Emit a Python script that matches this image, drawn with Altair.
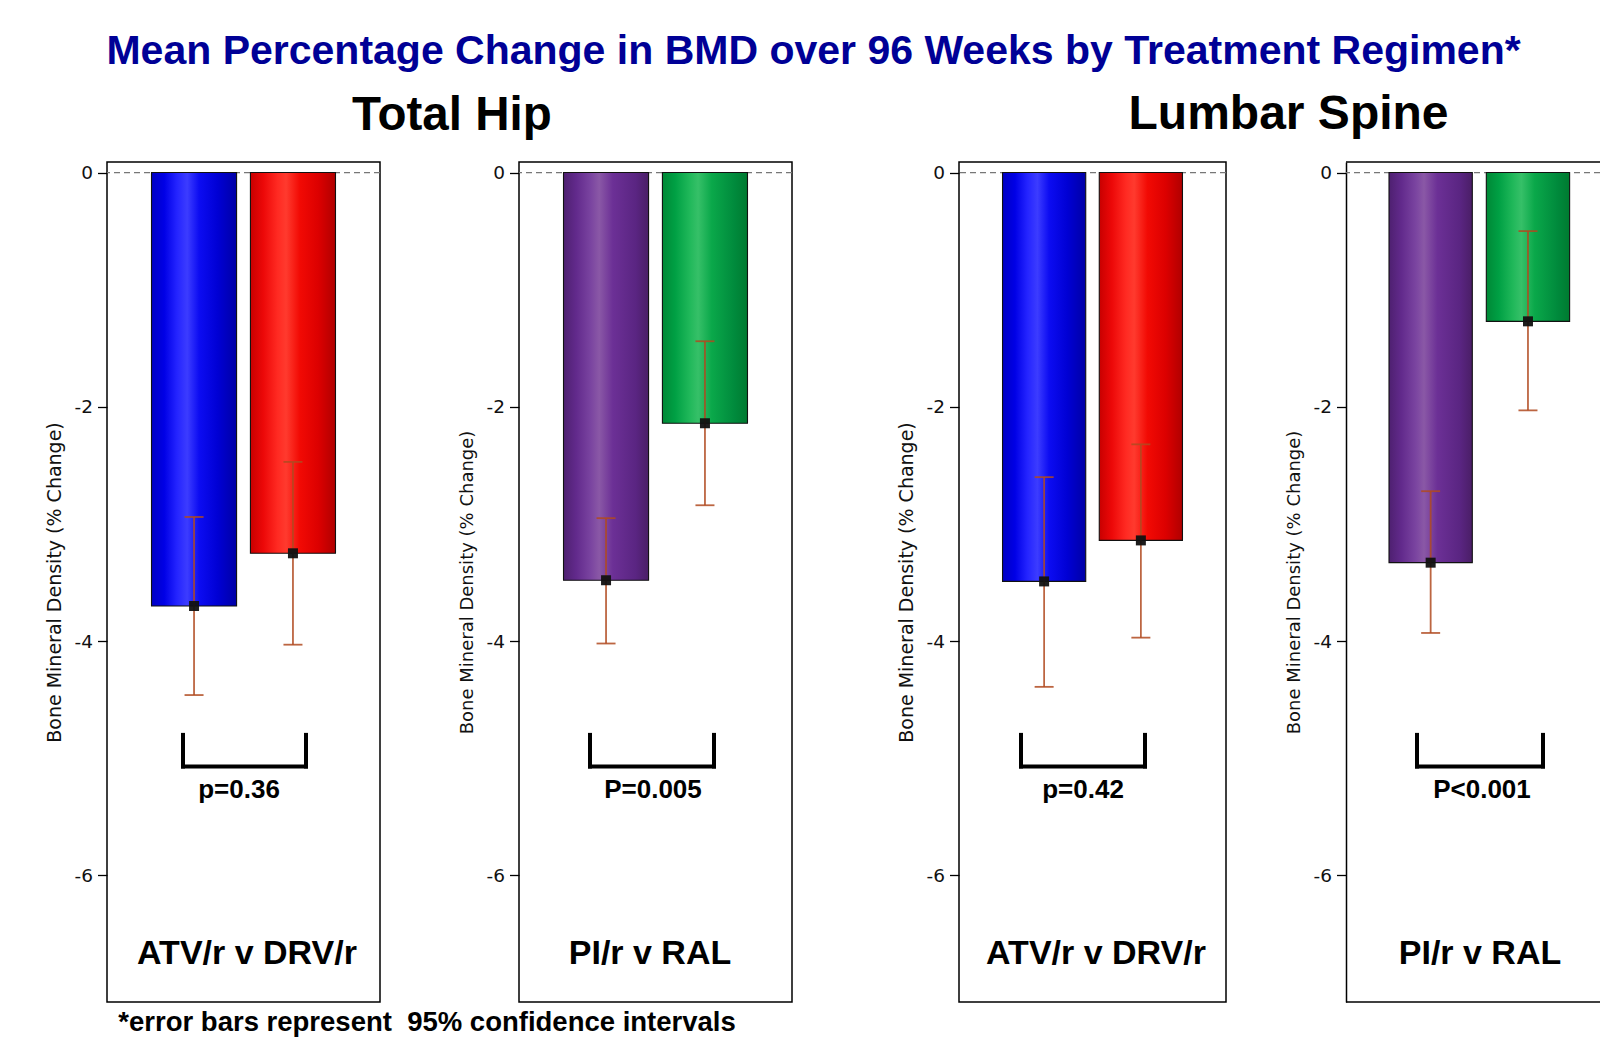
import altair as alt
import pandas as pd

# ---------------- data ----------------
TITLE = "Mean Percentage Change in BMD over 96 Weeks by Treatment Regimen*"
SITE_TITLES = ["Total Hip", "Lumbar Spine"]
FOOTNOTE = "*error bars represent\u00a0 95% confidence intervals"
Y_TITLE = "Bone Mineral Density (% Change)"
Y_TICKS = [0, -2, -4, -6]
Y_DOMAIN = [-7.08, 0.09]

comparisons = ["ATV/r v DRV/r", "PI/r v RAL", "ATV/r v DRV/r", "PI/r v RAL"]
p_values = ["p=0.36", "P=0.005", "p=0.42", "P<0.001"]

groups_hip_1 = ["ATV/r", "DRV/r"]
mean_hip_1 = [-3.70, -3.25]
lo_hip_1 = [-4.46, -4.03]
hi_hip_1 = [-2.94, -2.47]

groups_hip_2 = ["PI/r", "RAL"]
mean_hip_2 = [-3.48, -2.14]
lo_hip_2 = [-4.02, -2.84]
hi_hip_2 = [-2.95, -1.44]

groups_spine_1 = ["ATV/r", "DRV/r"]
mean_spine_1 = [-3.49, -3.14]
lo_spine_1 = [-4.39, -3.97]
hi_spine_1 = [-2.60, -2.32]

groups_spine_2 = ["PI/r", "RAL"]
mean_spine_2 = [-3.33, -1.27]
lo_spine_2 = [-3.93, -2.03]
hi_spine_2 = [-2.72, -0.50]

# annotation levels (in data units)
bracket_top = -4.80
bracket_bottom = -5.07
p_level = -5.27
label_level = -6.67

# ---------------- styles ----------------
FONT = "Liberation Sans"
AXFONT = "DejaVu Sans"
EB = "#B04A20"
H = 840


def grad(stops):
    return alt.Gradient(
        gradient="linear", x1=0, x2=1, y1=0, y2=0,
        stops=[alt.GradientStop(offset=o, color=c) for o, c in stops],
    )


FILLS = {
    "ATV/r": grad([(0, "#0000c4"), (0.15, "#0000e6"), (0.3, "#2424ff"), (0.42, "#3c3cff"),
                   (0.56, "#0c0cf2"), (0.78, "#0000d4"), (1, "#0000a6")]),
    "DRV/r": grad([(0, "#c80000"), (0.15, "#ec0808"), (0.32, "#ff2a22"), (0.42, "#ff3a2e"),
                   (0.58, "#f20a04"), (0.8, "#dc0000"), (1, "#b00000")]),
    "PI/r": grad([(0, "#4e2070"), (0.15, "#622a8c"), (0.32, "#7a44a0"), (0.42, "#8a58a6"),
                  (0.58, "#6c3096"), (0.85, "#5a2582"), (1, "#4a1e66")]),
    "RAL": grad([(0, "#008836"), (0.15, "#00a044"), (0.32, "#20b85a"), (0.42, "#36c068"),
                 (0.58, "#0aa84a"), (0.85, "#008a3c"), (1, "#007a30")]),
}

LAYOUT = [
    dict(width=273, pi=0.14, po=0.45, align=0.5, tfs=19, br=(76, 199), pt=132, lt=140, open=False),
    dict(width=273, pi=0.14, po=0.45, align=0.5, tfs=18, br=(71, 195), pt=134, lt=131, open=False),
    dict(width=267, pi=0.14, po=0.45, align=0.5, tfs=19, br=(62, 186), pt=124, lt=137, open=False),
    dict(width=254, pi=0.144, po=0.377, align=0.586, tfs=18, br=(71, 197), pt=136, lt=134, open=True),
]

LABEL_EXPR = "(datum.value < 0 ? '-' : '') + abs(datum.value)"


def panel(groups, means, los, his, pval, label, lay):
    df = pd.DataFrame({"group": groups, "mean": means, "lo": los, "hi": his})
    one = alt.Chart(pd.DataFrame({
        "zero": [0], "top": [bracket_top], "bot": [bracket_bottom],
        "p": [p_level], "lab": [label_level],
        "ymax": [Y_DOMAIN[1]], "ymin": [Y_DOMAIN[0]],
    }))
    base = alt.Chart(df)
    ys = alt.Scale(domain=Y_DOMAIN, nice=False, zero=False)
    xs = alt.Scale(domain=groups, paddingInner=lay["pi"], paddingOuter=lay["po"], align=lay["align"])
    X = alt.X("group:N", scale=xs, axis=None, sort=groups)
    yaxis = alt.Axis(
        values=Y_TICKS, title=Y_TITLE, titleFontSize=lay["tfs"], grid=False,
        labelExpr=LABEL_EXPR,
        domain=lay["open"], domainColor="black", domainWidth=1.5,
    )

    def Y(field):
        return alt.Y(field, scale=ys, axis=yaxis)

    layers = [
        one.mark_rule(color="#777777", strokeDash=[6, 4], strokeWidth=1.3).encode(y=Y("zero:Q"))
    ]
    for g in groups:
        layers.append(
            base.transform_filter(alt.datum.group == g)
            .mark_bar(fill=FILLS[g], stroke="#111111", strokeWidth=1.1)
            .encode(x=X, y=Y("mean:Q"), y2=alt.Y2(datum=0))
        )
    layers += [
        base.mark_rule(color=EB, strokeWidth=1.8, opacity=0.85).encode(x=X, y=Y("lo:Q"), y2="hi:Q"),
        base.mark_tick(color=EB, thickness=1.8, size=19, opacity=0.85).encode(x=X, y=Y("lo:Q")),
        base.mark_tick(color=EB, thickness=1.8, size=19, opacity=0.85).encode(x=X, y=Y("hi:Q")),
        base.mark_square(size=100, color="#111111", opacity=0.95).encode(x=X, y=Y("mean:Q")),
    ]
    bl, br = lay["br"]
    layers += [
        one.mark_rule(color="black", strokeWidth=4, strokeCap="square")
        .encode(x=alt.value(bl), y=Y("top:Q"), y2="bot:Q"),
        one.mark_rule(color="black", strokeWidth=4, strokeCap="square")
        .encode(x=alt.value(br), y=Y("top:Q"), y2="bot:Q"),
        one.mark_rule(color="black", strokeWidth=4, strokeCap="square")
        .encode(x=alt.value(bl), x2=alt.value(br), y=Y("bot:Q")),
        one.mark_text(text=pval, font=FONT, fontSize=26, fontWeight="bold",
                      align="center", baseline="middle", color="black")
        .encode(x=alt.value(lay["pt"]), y=Y("p:Q")),
        one.mark_text(text=label, font=FONT, fontSize=34, fontWeight="bold",
                      align="center", baseline="middle", color="black")
        .encode(x=alt.value(lay["lt"]), y=Y("lab:Q")),
    ]
    if lay["open"]:
        layers += [
            one.mark_rule(color="black", strokeWidth=1.5).encode(y=Y("ymax:Q")),
            one.mark_rule(color="black", strokeWidth=1.5).encode(y=Y("ymin:Q")),
        ]
        return alt.layer(*layers).properties(
            width=lay["width"], height=H, view=alt.ViewBackground(strokeOpacity=0)
        )
    return alt.layer(*layers).properties(width=lay["width"], height=H)


p1 = panel(groups_hip_1, mean_hip_1, lo_hip_1, hi_hip_1, p_values[0], comparisons[0], LAYOUT[0])
p2 = panel(groups_hip_2, mean_hip_2, lo_hip_2, hi_hip_2, p_values[1], comparisons[1], LAYOUT[1])
p3 = panel(groups_spine_1, mean_spine_1, lo_spine_1, hi_spine_1, p_values[2], comparisons[2], LAYOUT[2])
p4 = panel(groups_spine_2, mean_spine_2, lo_spine_2, hi_spine_2, p_values[3], comparisons[3], LAYOUT[3])

hip = alt.hconcat(
    p1, p2, spacing=75,
    title=alt.TitleParams(SITE_TITLES[0], font=FONT, fontSize=47.5, fontWeight="bold",
                          color="black", anchor="middle", dx=33, offset=22),
)
spine = alt.hconcat(
    p3, p4, spacing=57,
    title=alt.TitleParams(SITE_TITLES[1], font=FONT, fontSize=48, fontWeight="bold",
                          color="black", anchor="middle", dx=40, offset=22),
)
row = alt.hconcat(
    hip, spine, spacing=102,
    title=alt.TitleParams(FOOTNOTE, orient="bottom", anchor="start", font=FONT, fontSize=27.5,
                          fontWeight="bold", color="black", dx=74, offset=6),
)
chart = (
    alt.vconcat(
        row,
        title=alt.TitleParams(TITLE, font=FONT, fontSize=41, fontWeight="bold", color="#000096",
                              anchor="middle", dx=-9, offset=18),
        padding={"left": 36, "top": 23, "right": 0, "bottom": 0},
        background="white",
    )
    .configure_view(stroke="black", strokeWidth=1.5)
    .configure_axis(
        labelFont=AXFONT, labelFontSize=18.5, labelColor="#111111",
        titleFont=AXFONT, titleFontWeight="normal", titleColor="#111111",
        tickColor="black", tickSize=9.5, tickWidth=1.3, labelPadding=5, titlePadding=10,
    )
)

chart.save("out.html", embed_options={"renderer": "svg", "actions": False})
